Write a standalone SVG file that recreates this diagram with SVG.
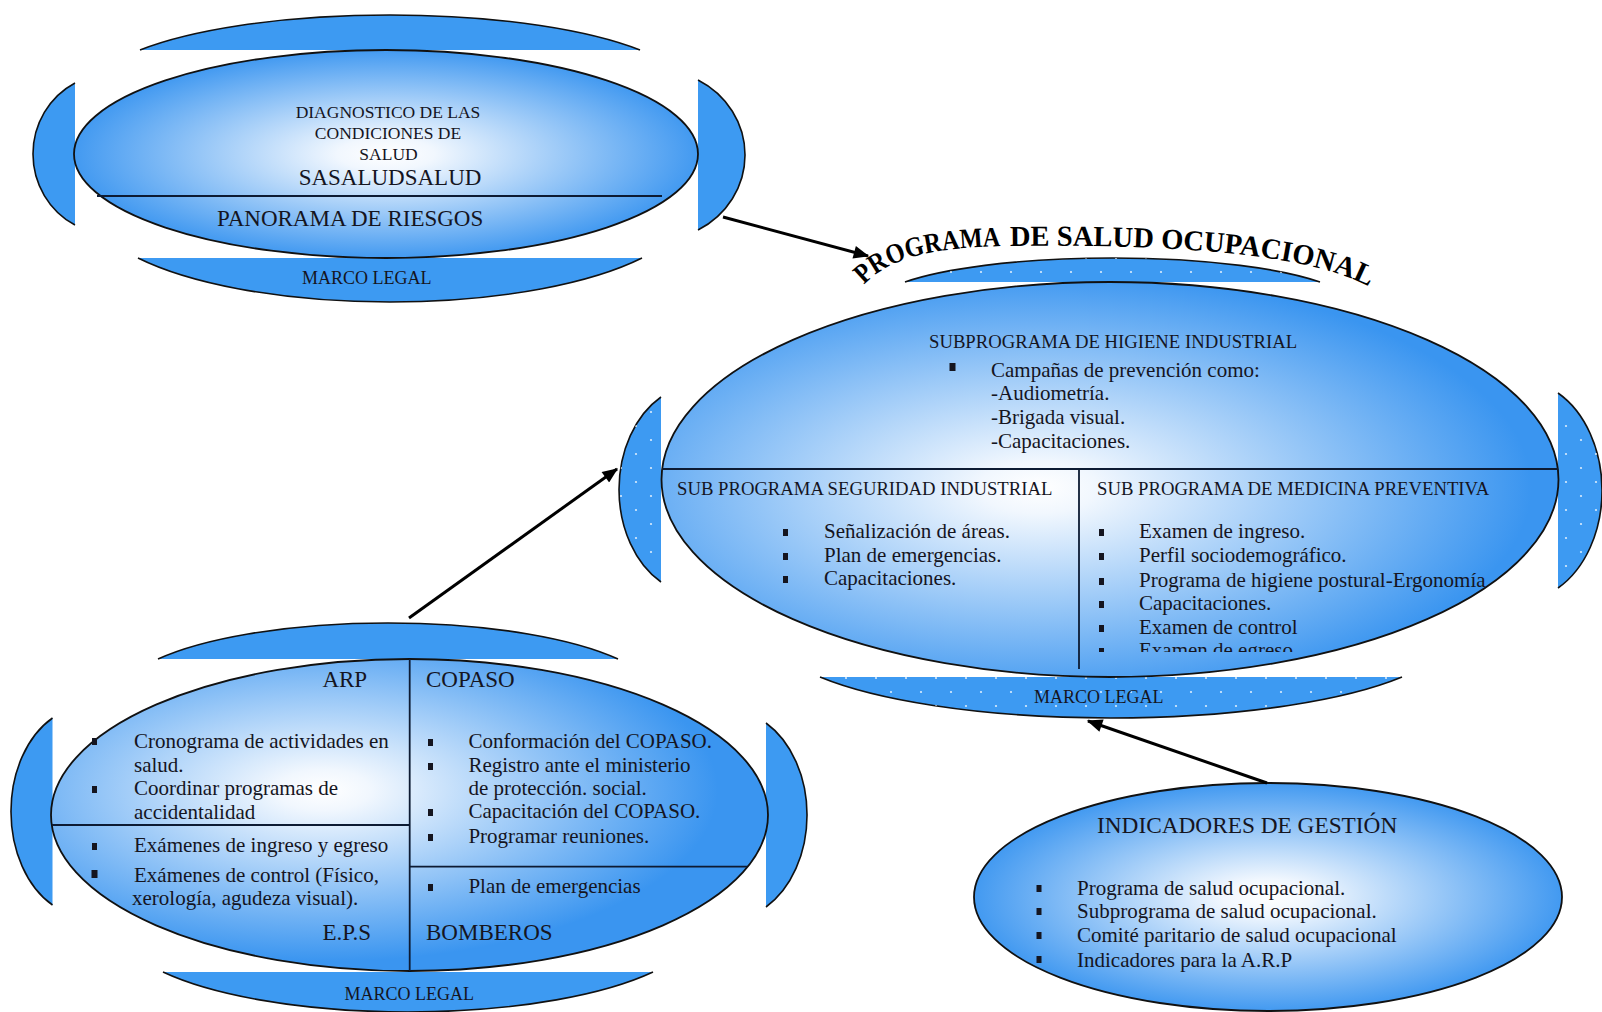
<svg xmlns="http://www.w3.org/2000/svg" width="1602" height="1012" viewBox="0 0 1602 1012">
<style>
.cap{fill:#3d9af2;stroke:#111;stroke-width:1.6}
.dot{fill:url(#dots);stroke:none}
.ell{stroke:#111;stroke-width:1.8}
.dv{stroke:#0d1b33;stroke-width:1.8;fill:none}
.t{font-family:"Liberation Serif","Times New Roman",serif;fill:#15151f}
.s17{font-size:17.5px}
.s18{font-size:18.7px}
.s21{font-size:21px}
.s23{font-size:23px}
.b{fill:#15151f}
.ttl{font-family:"Liberation Serif","Times New Roman",serif;font-weight:bold;fill:#000}
.con{stroke:#000;stroke-width:3;fill:none;marker-end:url(#ah)}
</style>
<defs>
<radialGradient id="gw" cx="0.5" cy="0.5" r="0.52">
<stop offset="0" stop-color="#ffffff"/>
<stop offset="0.15" stop-color="#f1f7fe"/>
<stop offset="1" stop-color="#3a95f0"/>
</radialGradient>
<radialGradient id="g2" cx="0.42" cy="0.52" r="0.55">
<stop offset="0" stop-color="#ffffff"/>
<stop offset="0.12" stop-color="#f1f7fe"/>
<stop offset="1" stop-color="#3a95f0"/>
</radialGradient>
<radialGradient id="g3" cx="0.38" cy="0.42" r="0.55">
<stop offset="0" stop-color="#ffffff"/>
<stop offset="0.12" stop-color="#f1f7fe"/>
<stop offset="1" stop-color="#3a95f0"/>
</radialGradient>
<pattern id="dots" x="0" y="0" width="30" height="28" patternUnits="userSpaceOnUse">
<circle cx="6" cy="6" r="1.1" fill="#ffffff" fill-opacity="0.8"/>
<circle cx="21" cy="20" r="1.1" fill="#ffffff" fill-opacity="0.8"/>
</pattern>
<clipPath id="clipMed"><rect x="1080" y="470" width="480" height="182"/></clipPath>
<marker id="ah" viewBox="0 0 12 10" refX="11" refY="5" markerWidth="17" markerHeight="13" markerUnits="userSpaceOnUse" orient="auto">
<path d="M0,0 L12,5 L0,10 Z" fill="#000"/>
</marker>
</defs>
<rect width="1602" height="1012" fill="#ffffff"/>

<g id="node-diagnostico">
<path class="cap" d="M140,50 A300,78.3 0 0 1 640,50"/>
<path class="cap" d="M138,258 A300,96.2 0 0 0 642,258"/>
<path class="cap" d="M75,83 A77.9,80 0 0 0 75,225"/>
<path class="cap" d="M698,80 A88.8,85 0 0 1 698,230"/>
<ellipse class="ell" cx="386" cy="154" rx="312" ry="104" fill="url(#gw)"/>
<line class="dv" x1="97" y1="196" x2="662" y2="196"/>
<text class="t s17" x="388" y="118" text-anchor="middle">DIAGNOSTICO DE LAS</text>
<text class="t s17" x="388" y="138.5" text-anchor="middle">CONDICIONES DE</text>
<text class="t s17" x="388.5" y="159.5" text-anchor="middle">SALUD</text>
<text class="t s23" x="390" y="185" text-anchor="middle">SASALUDSALUD</text>
<text class="t s23" x="217" y="226">PANORAMA DE RIESGOS</text>
<text class="t" x="302" y="284" font-size="18">MARCO LEGAL</text>
</g>

<g id="title">
<path id="arc" d="M864,285 C891,256 937,247 1010,246 C1180,244 1320,254 1378,292" fill="none"/>
<text class="ttl" font-size="28"><textPath href="#arc" startOffset="0" textLength="146" lengthAdjust="spacingAndGlyphs">PROGRAMA</textPath></text>
<text class="ttl" font-size="29"><textPath href="#arc" startOffset="155" textLength="364" lengthAdjust="spacingAndGlyphs">DE SALUD OCUPACIONAL</textPath></text>
</g>

<g id="node-programa">
<path class="cap" d="M905,282 A240,48.2 0 0 1 1320,282"/>
<path class="dot" d="M905,282 A240,48.2 0 0 1 1320,282"/>
<path class="cap" d="M661,397 A79.7,105 0 0 0 661,582"/>
<path class="dot" d="M661,397 A79.7,105 0 0 0 661,582"/>
<path class="cap" d="M1558,393 A82,110 0 0 1 1558,588"/>
<path class="dot" d="M1558,393 A82,110 0 0 1 1558,588"/>
<path class="cap" d="M820,677 A340,84.9 0 0 0 1402,677"/>
<path class="dot" d="M820,677 A340,84.9 0 0 0 1402,677"/>
<ellipse class="ell" cx="1110" cy="479.5" rx="448.5" ry="197.5" fill="url(#g2)"/>
<line class="dv" x1="662" y1="469" x2="1558" y2="469"/>
<line class="dv" x1="1079" y1="469" x2="1079" y2="669"/>
<text class="t s18" x="929" y="348">SUBPROGRAMA DE HIGIENE INDUSTRIAL</text>
<rect class="b" x="949.5" y="363" width="6" height="8"/>
<text class="t s21" x="991" y="377">Campañas de prevención como:</text>
<text class="t s21" x="991" y="400">-Audiometría.</text>
<text class="t s21" x="991" y="424">-Brigada visual.</text>
<text class="t s21" x="991" y="448">-Capacitaciones.</text>
<text class="t s18" x="677" y="495">SUB PROGRAMA SEGURIDAD INDUSTRIAL</text>
<text class="t s18" x="1097" y="495">SUB PROGRAMA DE MEDICINA PREVENTIVA</text>
<rect class="b" x="783" y="529" width="5" height="7"/>
<rect class="b" x="783" y="553" width="5" height="7"/>
<rect class="b" x="783" y="576" width="5" height="7"/>
<text class="t s21" x="824" y="538">Señalización de áreas.</text>
<text class="t s21" x="824" y="562">Plan de emergencias.</text>
<text class="t s21" x="824" y="585">Capacitaciones.</text>
<g clip-path="url(#clipMed)">
<rect class="b" x="1099" y="529" width="5" height="7"/>
<rect class="b" x="1099" y="553" width="5" height="7"/>
<rect class="b" x="1099" y="578" width="5" height="7"/>
<rect class="b" x="1099" y="601" width="5" height="7"/>
<rect class="b" x="1099" y="625" width="5" height="7"/>
<rect class="b" x="1099" y="648" width="5" height="7"/>
<text class="t s21" x="1139" y="538">Examen de ingreso.</text>
<text class="t s21" x="1139" y="562">Perfil sociodemográfico.</text>
<text class="t s21" x="1139" y="586.5">Programa de higiene postural-Ergonomía</text>
<text class="t s21" x="1139" y="610">Capacitaciones.</text>
<text class="t s21" x="1139" y="633.5">Examen de control</text>
<text class="t s21" x="1139" y="657">Examen de egreso</text>
</g>
<text class="t" x="1034" y="703" font-size="18">MARCO LEGAL</text>
</g>

<g id="node-entidades">
<path class="cap" d="M158,659 A270,75.6 0 0 1 618,659"/>
<path class="cap" d="M52.5,718 A76.2,105 0 0 0 52.5,905"/>
<path class="cap" d="M766,723 A79.2,105 0 0 1 766,907"/>
<path class="cap" d="M163,972 A290,86 0 0 0 653,972"/>
<ellipse class="ell" cx="409.5" cy="815" rx="358.5" ry="156" fill="url(#g3)"/>
<line class="dv" x1="409.7" y1="659" x2="409.7" y2="971"/>
<line class="dv" x1="52" y1="825" x2="409.7" y2="825"/>
<line class="dv" x1="409.7" y1="866.7" x2="747" y2="866.7"/>
<text class="t s23" x="322.4" y="687">ARP</text>
<text class="t s23" x="426" y="687">COPASO</text>
<text class="t s23" x="322.4" y="940">E.P.S</text>
<text class="t s23" x="426" y="940">BOMBEROS</text>
<rect class="b" x="92" y="738" width="5" height="7"/>
<rect class="b" x="92" y="786" width="5" height="7"/>
<text class="t s21" x="134" y="748.3">Cronograma de actividades en</text>
<text class="t s21" x="134" y="771.7">salud.</text>
<text class="t s21" x="134" y="795">Coordinar programas de</text>
<text class="t s21" x="134" y="819">accidentalidad</text>
<rect class="b" x="92" y="843" width="5" height="7"/>
<rect class="b" x="91.5" y="870" width="6" height="8"/>
<text class="t s21" x="134" y="851.7">Exámenes de ingreso y egreso</text>
<text class="t s21" x="134" y="881.7">Exámenes de control (Físico,</text>
<text class="t s21" x="132" y="905">xerología, agudeza visual).</text>
<rect class="b" x="428" y="739" width="5" height="7"/>
<rect class="b" x="428" y="763" width="5" height="7"/>
<rect class="b" x="428" y="809" width="5" height="7"/>
<rect class="b" x="428" y="834" width="5" height="7"/>
<text class="t s21" x="468.4" y="748.3">Conformación del COPASO.</text>
<text class="t s21" x="468.4" y="771.7">Registro ante el ministerio</text>
<text class="t s21" x="468.4" y="795">de protección. social.</text>
<text class="t s21" x="468.4" y="818.3">Capacitación del COPASO.</text>
<text class="t s21" x="468.4" y="843">Programar reuniones.</text>
<rect class="b" x="428" y="884" width="5" height="7"/>
<text class="t s21" x="468.4" y="893">Plan de emergencias</text>
<text class="t" x="344.4" y="1000" font-size="18">MARCO LEGAL</text>
</g>

<g id="node-indicadores">
<ellipse class="ell" cx="1268" cy="897" rx="294" ry="114" fill="url(#gw)"/>
<text class="t" x="1097" y="833" font-size="23.3">INDICADORES DE GESTIÓN</text>
<rect class="b" x="1036.5" y="885" width="5" height="7"/>
<rect class="b" x="1036.5" y="908" width="5" height="7"/>
<rect class="b" x="1036.5" y="932" width="5" height="7"/>
<rect class="b" x="1036.5" y="956" width="5" height="7"/>
<text class="t s21" x="1077" y="895">Programa de salud ocupacional.</text>
<text class="t s21" x="1077" y="918.3">Subprograma de salud ocupacional.</text>
<text class="t s21" x="1077" y="941.7">Comité paritario de salud ocupacional</text>
<text class="t s21" x="1077" y="966.5">Indicadores para la A.R.P</text>
</g>

<g id="connectors">
<path class="con" d="M723,217 L868,256"/>
<path class="con" d="M409,618 L617,469"/>
<path class="con" d="M1267,783 L1088,721"/>
</g>
</svg>
